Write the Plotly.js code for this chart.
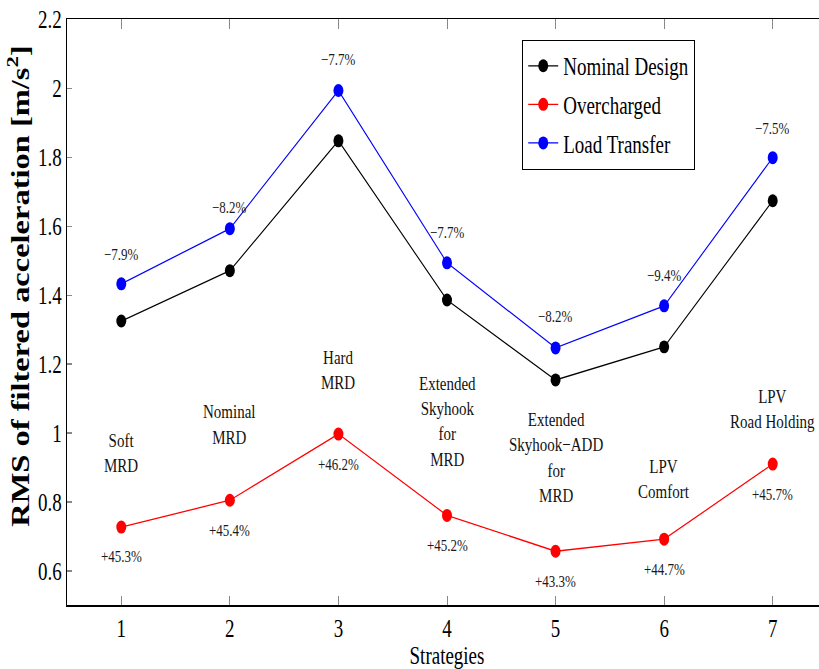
<!DOCTYPE html>
<html><head><meta charset="utf-8">
<script src="https://cdn.plot.ly/plotly-3.0.1.min.js"></script>
<style>
html,body{margin:0;padding:0;overflow:hidden;background:#fff;width:819px;height:669px}
#chart{transform:scale(1,1.299);transform-origin:0 0;}
</style>
</head><body><div id="chart"></div>
<script>
// ---- data ----
const strategies = [1, 2, 3, 4, 5, 6, 7];
const strategyNames = ["Soft<br>MRD", "Nominal<br>MRD", "Hard<br>MRD",
  "Extended<br>Skyhook<br>for<br>MRD", "Extended<br>Skyhook\u2212ADD<br>for<br>MRD",
  "LPV<br>Comfort", "LPV<br>Road Holding"];
const nominalDesign = [1.325, 1.471, 1.848, 1.386, 1.154, 1.250, 1.674];
const overcharged   = [0.727, 0.805, 0.997, 0.761, 0.657, 0.692, 0.910];
const loadTransfer  = [1.433, 1.593, 1.994, 1.494, 1.247, 1.369, 1.799];
const loadTransferPct = ["\u22127.9%", "\u22128.2%", "\u22127.7%", "\u22127.7%", "\u22128.2%", "\u22129.4%", "\u22127.5%"];
const overchargedPct  = ["+45.3%", "+45.4%", "+46.2%", "+45.2%", "+43.3%", "+44.7%", "+45.7%"];
const yTicks = [0.6, 0.8, 1, 1.2, 1.4, 1.6, 1.8, 2, 2.2];

// ---- layout helpers ----
const serif = "'Liberation Serif', 'Times New Roman', serif";
const labelCenterY = [0.942, 1.024, 1.184, 1.035, 0.929, 0.865, 1.068];
const blueShift = [23, 17, 24, 24, 24, 24, 23];

function tr(name, y, color, g) {
  return {x: strategies, y: y, name: name, type: "scatter", mode: "lines+markers",
    legendgroup: g, line: {color: color, width: 1},
    marker: {color: color, size: 10}};
}
const traces = [
  tr("Nominal Design", nominalDesign, "#000000", "a"),
  tr("Overcharged", overcharged, "#ff0000", "b"),
  tr("Load Transfer", loadTransfer, "#0000ff", "c")
];

const ann = [];
strategies.forEach((s, i) => {
  ann.push({x: s, y: loadTransfer[i], text: loadTransferPct[i], showarrow: false,
    yshift: blueShift[i], font: {family: serif, size: 13, color: "#1a1a1a"}});
  ann.push({x: s, y: overcharged[i], text: overchargedPct[i], showarrow: false,
    yshift: -23, font: {family: serif, size: 13, color: "#1a1a1a"}});
  ann.push({x: s, y: labelCenterY[i], text: strategyNames[i], showarrow: false,
    yanchor: "middle", font: {family: serif, size: 15, color: "#111"}});
});
ann.push({xref: "paper", yref: "paper", x: -0.064, y: 0.545, xanchor: "center", yanchor: "middle",
  textangle: -90, showarrow: false, text: "RMS of filtered acceleration [m/s<sup>2</sup>]",
  font: {family: serif, size: 25, weight: "bold", color: "#000"}});

const layout = {
  width: 828, height: 515,
  margin: {l: 67, r: 1, t: 15, b: 49},
  paper_bgcolor: "#fff", plot_bgcolor: "#fff",
  font: {family: serif, color: "#000"},
  showlegend: true,
  legend: {x: 0.599, y: 0.965, xanchor: "left", yanchor: "top",
    bordercolor: "#000", borderwidth: 1, bgcolor: "#fff",
    font: {family: serif, size: 19, color: "#000"},
    traceorder: "grouped", tracegroupgap: 2},
  xaxis: {range: [0.5, 7.5], tickvals: strategies, ticktext: strategies.map(String),
    ticks: "inside", ticklen: 7, tickcolor: "#888", showline: true, linecolor: "#000",
    linewidth: 1.5, mirror: "ticks", showgrid: false, zeroline: false,
    tickfont: {family: serif, size: 19, color: "#000"},
    title: {text: "Strategies", font: {family: serif, size: 19, color: "#000"}, standoff: 1}},
  yaxis: {range: [0.5, 2.2], tickvals: yTicks, ticktext: yTicks.map(v => String(v)),
    ticks: "inside", ticklen: 5, tickcolor: "#888", showline: true, linecolor: "#000",
    linewidth: 1.5, mirror: "ticks", showgrid: false, zeroline: false,
    tickfont: {family: serif, size: 19, color: "#000"}},
  annotations: ann
};
Plotly.newPlot("chart", traces, layout, {displayModeBar: false, staticPlot: true});
</script></body></html>
